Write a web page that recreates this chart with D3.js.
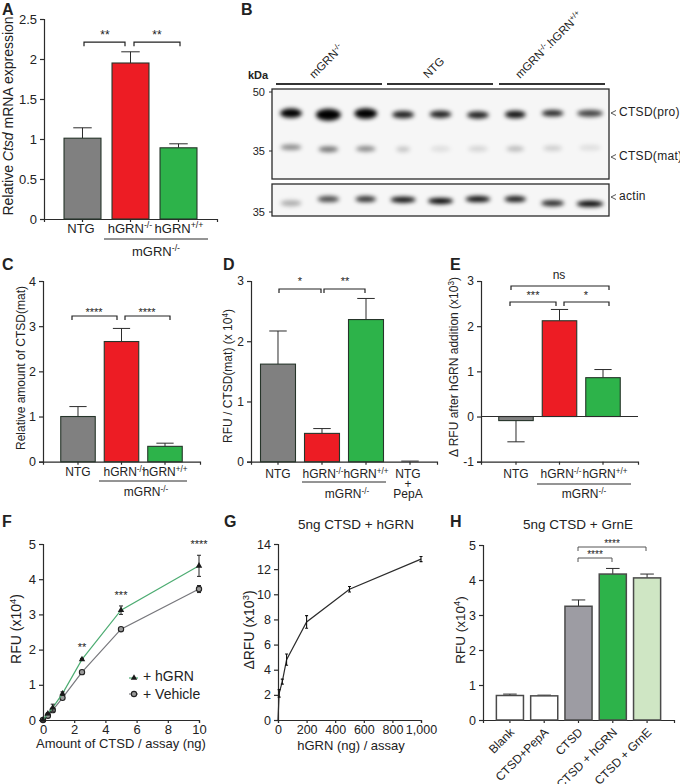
<!DOCTYPE html>
<html><head><meta charset="utf-8">
<script src="https://cdn.jsdelivr.net/npm/d3@7"></script>
<style>html,body{margin:0;padding:0;background:#fff}svg{display:block}text{font-family:"Liberation Sans",Arial,sans-serif;fill:#222}</style>
</head><body><svg id="c" width="680" height="784"></svg>
<script>
// ---------- data ----------
const barCats = ["NTG","hGRN^{-/-}","hGRN^{+/+}"];
const barColors = ["#808080","#ed1c24","#2db34a"];
const aVals = [1.01,1.95,0.89], aErr = [0.13,0.14,0.05];
const cVals = [1.0,2.66,0.34], cErr = [0.22,0.29,0.07];
const dCats = ["NTG","hGRN^{-/-}","hGRN^{+/+}","NTG"];
const dVals = [1.62,0.47,2.36,0.01], dErr = [0.55,0.08,0.35,0];
const eVals = [-0.09,2.12,0.86], eErr = [0.47,0.25,0.18];
const hCats = ["Blank","CTSD+PepA","CTSD","CTSD + hGRN","CTSD + GrnE"];
const hVals = [0.7,0.69,3.25,4.17,4.06], hErr = [0.04,0.02,0.18,0.16,0.11];
const hColors = ["#ffffff","#ffffff","#9d9ca3","#2db34a","#cfe6c4"];
const aTicks = [0,0.5,1,1.5,2,2.5], cTicks = [0,1,2,3,4], dTicks = [0,1,2,3], eTicks = [-1,0,1,2,3];
const fX = [0,0.3125,0.625,1.25,2.5,5,10];
const fGrn = [0,0.18,0.35,0.75,1.72,3.12,4.38], fGrnErr = [0,0.03,0.1,0.05,0.03,0.12,0.3];
const fVeh = [0,0.12,0.28,0.63,1.36,2.58,3.72], fVehErr = [0,0.03,0.04,0.04,0.03,0.03,0.1];
const gX = [0,8,30,60,200,500,1000];
const gY = [0,2.12,3.05,4.8,7.8,10.4,12.8], gErr = [0,0.3,0.2,0.45,0.5,0.22,0.2];
// western blot: one entry per lane
const lanes = d3.range(9);
const laneGroups = ["mGRN^{-/-}","NTG","mGRN^{-/-}.hGRN^{+/+}"];
const proKDa  = [44.0,43.6,43.9,43.6,43.7,43.5,43.65,44.0,43.95];
const proDark = [1,1,1,.88,.88,.88,.92,.85,.75];
const proW    = [11,12.5,11.5,11,11,11,10.5,11,13];
const proH    = [4.6,6,5.2,3.6,3.6,3.6,3.8,3.2,3.4];
const matKDa  = [35.8,35.35,35.45,35.35,35.45,35.45,35.45,35.6,35.7];
const matDark = [.45,.55,.45,.2,.1,.14,.24,.17,.1];
const matW    = [10.5,10,10,7,10,10,9,9.5,11];
const actPos  = [.60,.47,.47,.49,.53,.47,.47,.60,.62];
const actDark = [.3,.7,.8,.95,1,.95,.9,.85,1];
const actW    = [10.5,11,10.5,12.5,12.5,12.5,11,11.5,13.5];

// ---------- helpers ----------
const svg = d3.select("#c");
const INK = "#2b2b2b";
const defs = svg.append("defs");
defs.append("filter").attr("id","blur").attr("x","-40%").attr("y","-100%").attr("width","180%").attr("height","300%")
  .append("feGaussianBlur").attr("stdDeviation",1.9);
defs.append("clipPath").attr("id","f1").append("rect").attr("x",272).attr("y",89).attr("width",337).attr("height",90);
defs.append("clipPath").attr("id","f2").append("rect").attr("x",272).attr("y",184).attr("width",337).attr("height",32);

function rich(x,y,str,o={}){
  const t = svg.append("text").attr("x",x).attr("y",y).attr("font-size",o.size||13)
    .attr("text-anchor",o.anchor||"middle");
  if(o.weight) t.attr("font-weight",o.weight);
  if(o.rotate!=null) t.attr("transform",`rotate(${o.rotate} ${x} ${y})`);
  if(o.spacing) t.attr("letter-spacing",o.spacing);
  const size = o.size||13, re=/(\^\{.*?\}|_\{.*?\})/;
  let shift=0;
  str.split(re).filter(s=>s!=="").forEach(s=>{
    const ts=t.append("tspan");
    if(s.startsWith("^{")){
      ts.text(s.slice(2,-1)).attr("font-size",size*0.68).attr("dy",-size*0.36-shift); shift=-size*0.36;
    } else {
      const it=s.startsWith("_{");
      ts.text(it?s.slice(2,-1):s).attr("dy",-shift); shift=0;
      if(it) ts.attr("font-style","italic");
    }
  });
  return t;
}
function styleAxis(g,w){
  g.selectAll("path,line").attr("stroke",INK).attr("stroke-width",w||1.2);
  g.selectAll("text").attr("font-family",'"Liberation Sans",Arial,sans-serif').attr("fill","#222");
}
function yAxis(xp,y,ticks,size,fmt){
  const g=svg.append("g").attr("transform",`translate(${xp},0)`)
    .call(d3.axisLeft(y).tickValues(ticks).tickSize(4).tickPadding(3).tickFormat(fmt||(d=>d)));
  g.selectAll("text").attr("font-size",size);
  styleAxis(g);
  g.selectAll("text").text(function(){return this.textContent.replace("−","-");});
  return g;
}
function bars(cats,vals,errs,colors,x0,x1,yTop,yBot,dom,ticks,opt={}){
  const y=d3.scaleLinear().domain(dom).range([yBot,yTop]);
  const idx=cats.map((_,i)=>i);
  const x=d3.scaleBand().domain(idx).range([x0,x1]).paddingInner(opt.pi||0.21).paddingOuter(opt.po||0.41);
  const cx=i=>x(i)+x.bandwidth()/2;
  const yAx=yAxis(x0,y,ticks,opt.tick||12.5);
  const ax=svg.append("g").attr("transform",`translate(0,${yBot})`)
    .call(d3.axisBottom(x).tickSize(3).tickFormat(""));
  styleAxis(ax);
  const g=svg.append("g");
  idx.forEach(i=>{
    const v=vals[i],e=errs[i],sg=v<0?-1:1;
    const capW=opt.cap||x.bandwidth()*0.5;
    g.append("line").attr("x1",cx(i)).attr("x2",cx(i)).attr("y1",y(v)).attr("y2",y(v+sg*e)).attr("stroke",INK).attr("stroke-width",1);
    g.append("line").attr("x1",cx(i)-capW/2).attr("x2",cx(i)+capW/2).attr("y1",y(v+sg*e)).attr("y2",y(v+sg*e)).attr("stroke",INK).attr("stroke-width",1);
    if(colors[i]){
      g.append("rect").attr("x",x(i)).attr("width",x.bandwidth())
        .attr("y",y(Math.max(v,0))).attr("height",Math.abs(y(v)-y(0)))
        .attr("fill",colors[i]).attr("stroke",opt.stroke||"#26352a").attr("stroke-width",opt.sw||1.1);
    }
  });
  if(dom[0]<0) svg.append("line").attr("x1",x0).attr("x2",x1).attr("y1",y(0)).attr("y2",y(0)).attr("stroke",INK).attr("stroke-width",1.1);
  return {x,y,cx};
}
function bracket(x1,x2,yp,label,lx,ly,o={}){
  const c=o.color||"#222";
  svg.append("path").attr("d",`M${x1},${yp+4}V${yp}H${x2}V${yp+4}`).attr("fill","none")
    .attr("stroke",c).attr("stroke-width",o.w||1.2);
  stars(lx==null?(x1+x2)/2:lx,ly,label,o.size);
}
function stars(x,yc,label,size){
  const s=size||12;
  svg.append("text").attr("x",x).attr("y",yc+s*0.48).attr("font-size",s).attr("text-anchor","middle").attr("font-weight","normal").text(label);
}
function groupLine(x1,x2,yp){
  svg.append("line").attr("x1",x1).attr("x2",x2).attr("y1",yp).attr("y2",yp).attr("stroke",INK).attr("stroke-width",1);
}
[["A",2,15],["B",241,15],["C",2,270],["D",223,270],["E",450,270],["F",2,527],["G",224,527],["H",450,527]]
 .forEach(([l,x,y])=>rich(x,y,l,{size:16,weight:"bold",anchor:"start"}).attr("fill","#000"));

// ---------- A ----------
{
 const p=bars(barCats,aVals,aErr,barColors,44,217,19,219,[0,2.5],aTicks,{pi:0.23,po:0.417,tick:13});
 barCats.forEach((c,i)=>rich(i==0?81:i==1?130:179,233,c,{size:13}));
 groupLine(104,208,239);
 rich(156,256,"mGRN^{-/-}",{size:13});
 rich(13,116,"Relative _{Ctsd} mRNA expression",{size:14,rotate:-90});
 bracket(84,125,y2(p,2.21),"**",105,33,{});
 bracket(134,180,y2(p,2.21),"**",157,33,{});
}
function y2(p,v){return p.y(v);}
// ---------- B ----------
{
 const kd=d3.scaleLog().domain([50,35]).range([92,151]);
 const lx=d3.scalePoint().domain(lanes).range([291,590]);
 const act=d3.scaleLinear().domain([0,1]).range([184,216]);
 [[272,89,337,90],[272,184,337,32]].forEach(r=>svg.append("rect").attr("x",r[0]).attr("y",r[1]).attr("width",r[2]).attr("height",r[3]).attr("fill","#f6f6f6"));
 const g1=svg.append("g").attr("clip-path","url(#f1)").append("g").attr("filter","url(#blur)");
 const g2=svg.append("g").attr("clip-path","url(#f2)").append("g").attr("filter","url(#blur)");
 g1.selectAll("ellipse.pro").data(lanes).join("ellipse").attr("class","pro")
   .attr("cx",d=>lx(d)).attr("cy",d=>kd(proKDa[d])).attr("rx",d=>proW[d]).attr("ry",d=>proH[d]).attr("fill","#000").attr("opacity",d=>proDark[d]);
 g1.selectAll("ellipse.mat").data(lanes).join("ellipse").attr("class","mat")
   .attr("cx",d=>lx(d)).attr("cy",d=>kd(matKDa[d])).attr("rx",d=>matW[d]).attr("ry",2.8).attr("fill","#000").attr("opacity",d=>matDark[d]);
 g2.selectAll("ellipse").data(lanes).join("ellipse")
   .attr("cx",d=>lx(d)).attr("cy",d=>act(actPos[d])).attr("rx",d=>actW[d]).attr("ry",3).attr("fill","#000").attr("opacity",d=>actDark[d]);
 [[272,89,337,90],[272,184,337,32]].forEach(r=>svg.append("rect").attr("x",r[0]).attr("y",r[1]).attr("width",r[2]).attr("height",r[3]).attr("fill","none").attr("stroke","#2a2a2a").attr("stroke-width",1.3));
 [[269,92,"50"],[269,151,"35"],[269,212,"35"]].forEach(([x,y,t])=>{
   svg.append("line").attr("x1",x).attr("x2",272).attr("y1",y).attr("y2",y).attr("stroke",INK);
   svg.append("text").attr("x",265).attr("y",y+4).attr("text-anchor","end").attr("font-size",11).text(t);
 });
 rich(248,79,"kDa",{size:11,weight:"bold",anchor:"start"});
 [[276,382,314],[387,493,428],[499,605,520]].forEach(([a,b,tx],i)=>{
   svg.append("line").attr("x1",a).attr("x2",b).attr("y1",84).attr("y2",84).attr("stroke","#333").attr("stroke-width",2);
   rich(tx,79,laneGroups[i],{size:11.5,anchor:"start",rotate:-45});
 });
 [[116,"CTSD(pro)",113],[160,"CTSD(mat)",157],[200,"actin",197]].forEach(([y,t,ym])=>{
   svg.append("path").attr("d",`M616,${ym-2.5}L611,${ym}L616,${ym+2.5}`).attr("fill","none").attr("stroke",INK).attr("stroke-width",.8);
   rich(619,y,t,{size:12,anchor:"start",spacing:.3});
 });
}
// ---------- C ----------
{
 bars(barCats,cVals,cErr,barColors,43,200,281,461.7,[0,4],cTicks,{pi:0.207,po:0.408,tick:12.5});
 [78,124,165].forEach((x,i)=>rich(x,476,barCats[i],{size:12}));
 groupLine(99,187,481);
 rich(146,496,"mGRN^{-/-}",{size:12});
 rich(25,368,"Relative amount of CTSD(mat)",{size:12,rotate:-90});
 bracket(72,117,316,"****",94,311,{size:11});
 bracket(125,170,316,"****",147,311,{size:11});
}
// ---------- D ----------
{
 bars(dCats,dVals,dErr,["#808080","#ed1c24","#2db34a",null],251,437,281,461.7,[0,3],dTicks,{pi:0.205,po:0.216,tick:12,cap:null});
 [278,323,366,408].forEach((x,i)=>rich(x,478,dCats[i],{size:12}));
 rich(408,488,"+",{size:12});
 rich(408,498,"PepA",{size:12});
 groupLine(302,386,482);
 rich(347,498,"mGRN^{-/-}",{size:12});
 rich(232,376,"RFU / CTSD(mat) (x 10^{4})",{size:12,rotate:-90});
 bracket(279,321,289,"*",300,280,{size:11});
 bracket(324,365,289,"**",345,280,{size:11});
}
// ---------- E ----------
{
 bars(barCats,eVals,eErr,barColors,481,638,281,461.7,[-1,3],eTicks,{pi:0.207,po:0.408,tick:12});
 [516,561,605].forEach((x,i)=>rich(x,478,barCats[i],{size:12}));
 groupLine(537,631,484);
 rich(584,498,"mGRN^{-/-}",{size:12});
 rich(458,367,"Δ RFU after  hGRN addition (x10^{3})",{size:12,rotate:-90});
 bracket(511,609,286,"",null,0);
 rich(559,279,"ns",{size:12});
 bracket(510,556,302,"***",533,294,{size:11});
 bracket(564,609,302,"*",586,294,{size:11});
}
// ---------- F ----------
{
 const x=d3.scaleLinear().domain([0,10]).range([43,199]);
 const y=d3.scaleLinear().domain([0,5]).range([720,544]);
 yAxis(43,y,[0,1,2,3,4,5],13);
 const ax=svg.append("g").attr("transform","translate(0,720)").call(d3.axisBottom(x).tickValues([0,2,4,6,8,10]).tickSize(3).tickPadding(2));
 ax.selectAll("text").attr("font-size",13); styleAxis(ax);
 const line=d3.line().x(d=>x(d[0])).y(d=>y(d[1]));
 const tri=d3.symbol().type(d3.symbolTriangle).size(18), dia=d3.symbol().type(d3.symbolCircle).size(22);
 function series(vals,errs,col,type){
   svg.append("path").attr("d",line(fX.map((v,i)=>[v,vals[i]]))).attr("fill","none").attr("stroke",col).attr("stroke-width",1.2);
   fX.forEach((v,i)=>{
     if(errs[i]>0){
       svg.append("path").attr("d",`M${x(v)-2},${y(vals[i]+errs[i])}H${x(v)+2}M${x(v)},${y(vals[i]+errs[i])}V${y(vals[i]-errs[i])}M${x(v)-2},${y(vals[i]-errs[i])}H${x(v)+2}`).attr("fill","none").attr("stroke","#222").attr("stroke-width",1);
     }
     marker(x(v),y(vals[i]),type);
   });
 }
 function marker(px,py,type){
   if(type==="tri") svg.append("path").attr("d",tri()).attr("transform",`translate(${px},${py})`).attr("fill","#1a1a1a");
   else svg.append("path").attr("d",dia()).attr("transform",`translate(${px},${py})`).attr("fill","#999").attr("stroke","#222").attr("stroke-width",1.1);
 }
 series(fVeh,fVehErr,"#77777c","dia");
 series(fGrn,fGrnErr,"#4dac72","tri");
 svg.append("line").attr("x1",129).attr("x2",138).attr("y1",678).attr("y2",678).attr("stroke","#4dac72").attr("stroke-width",1.2);
 marker(134,678,"tri");
 svg.append("line").attr("x1",129).attr("x2",138).attr("y1",694).attr("y2",694).attr("stroke","#77777c").attr("stroke-width",1.2);
 marker(134,694,"dia");
 rich(143,681,"+ hGRN",{size:14,anchor:"start"});
 rich(143,699,"+ Vehicle",{size:14,anchor:"start"});
 stars(82,646,"**",11); stars(121,594,"***",11); stars(199,543,"****",11);
 rich(121,748,"Amount of CTSD / assay (ng)",{size:13});
 rich(21,629,"RFU (x10^{4})",{size:14,rotate:-90});
}
// ---------- G ----------
{
 const x=d3.scaleLinear().domain([0,1000]).range([278,421]);
 const y=d3.scaleLinear().domain([0,14]).range([720,544]);
 yAxis(278,y,d3.range(0,15,2),12.5);
 const ax=svg.append("g").attr("transform","translate(0,720)").call(d3.axisBottom(x).tickValues(d3.range(0,1001,200)).tickSize(3).tickPadding(2));
 ax.selectAll("text").attr("font-size",12.5); styleAxis(ax);
 svg.append("path").attr("d",d3.line().x(d=>x(d[0])).y(d=>y(d[1]))(gX.map((v,i)=>[v,gY[i]]))).attr("fill","none").attr("stroke","#2b2b2b").attr("stroke-width",1.2);
 gX.forEach((v,i)=>{ if(gErr[i]>0)
   svg.append("path").attr("d",`M${x(v)-1.5},${y(gY[i]+gErr[i])}H${x(v)+1.5}M${x(v)},${y(gY[i]+gErr[i])}V${y(gY[i]-gErr[i])}M${x(v)-1.5},${y(gY[i]-gErr[i])}H${x(v)+1.5}`).attr("fill","none").attr("stroke","#111").attr("stroke-width",1.1);
 });
 rich(351,750,"hGRN (ng) / assay",{size:13});
 rich(254,630,"ΔRFU (x10^{3})",{size:14,rotate:-90});
 rich(356,529,"5ng CTSD + hGRN",{size:13.5});
}
// ---------- H ----------
{
 const p=bars(hCats,hVals,hErr,hColors,483,674,545,720,[0,5],[0,1,2,3,4,5],{pi:0.21,po:0.39,tick:12.5,stroke:"#4a4a4a",sw:1.5});
 hCats.forEach((c,i)=>rich(p.cx(i)+5,733,c,{size:12,anchor:"end",rotate:-45}));
 bracket(578,612,558,"****",595,553,{size:10,color:"#555",w:1});
 bracket(578,646,547,"****",612,542,{size:10,color:"#555",w:1});
 rich(465,630,"RFU (x10^{4})",{size:13.5,rotate:-90});
 rich(578,529,"5ng CTSD + GrnE",{size:13.5});
}
</script></body></html>
